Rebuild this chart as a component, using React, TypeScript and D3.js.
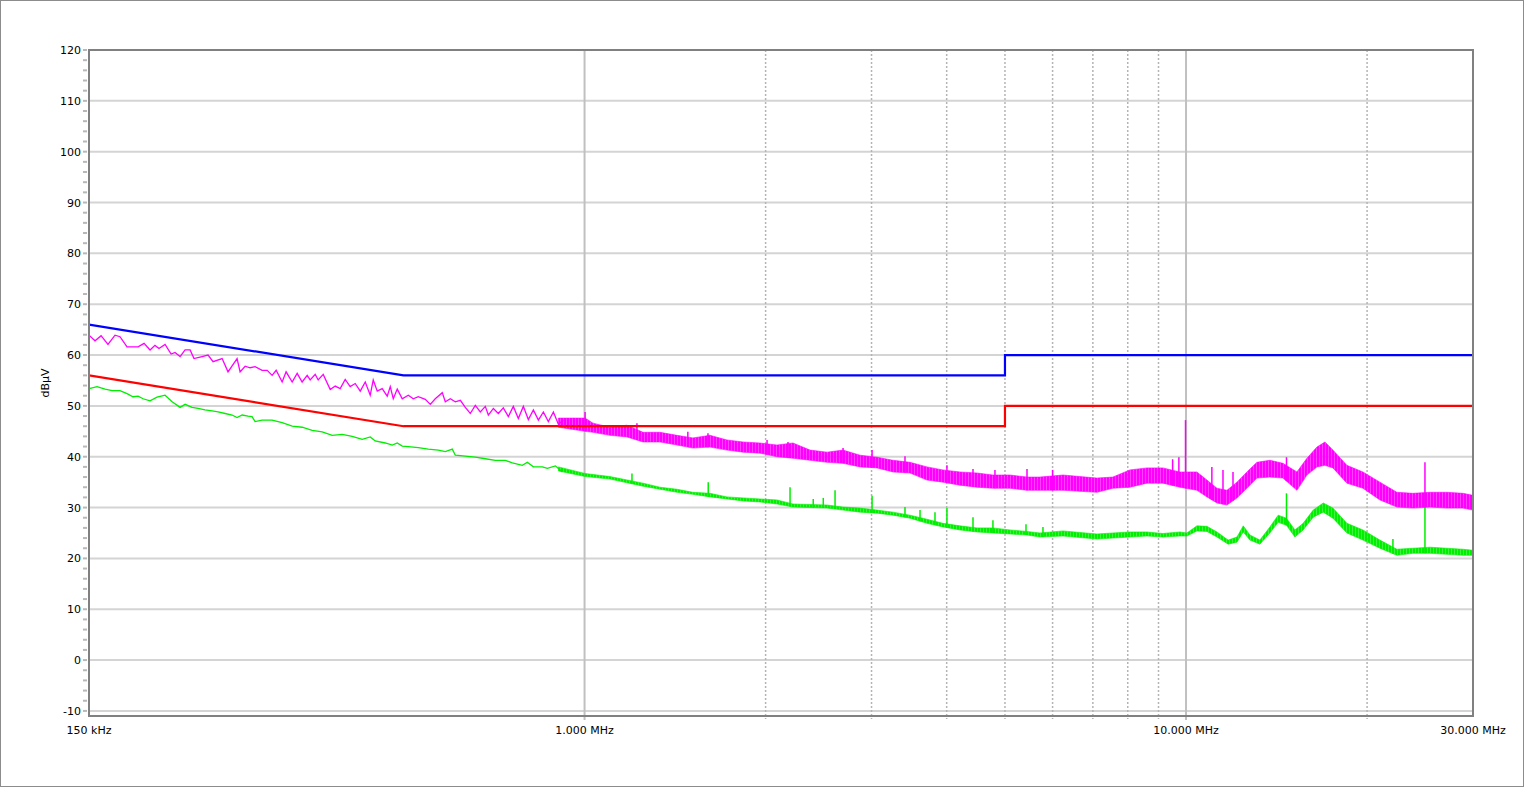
import React from 'react';
import * as d3 from 'd3';

// ---------- data (frequencies in MHz, levels in dBµV) ----------
const limitFreq = [0.15, 0.5, 5, 5, 30];
const limitQP = [66, 56, 56, 60, 60];
const limitAV = [56, 46, 46, 50, 50];

const xTickValues = [0.15, 1, 10, 30];
const xTickLabels = ['150 kHz', '1.000 MHz', '10.000 MHz', '30.000 MHz'];
const xMajorGrid = [1, 10];
const xMinorGrid = [2, 3, 4, 5, 6, 7, 8, 9, 20];
const yTickValues = [-10, 0, 10, 20, 30, 40, 50, 60, 70, 80, 90, 100, 110, 120];

// Peak trace (magenta) – low-frequency part, read as a line
const peakLowFreq = [0.150, 0.1535, 0.1571, 0.1613, 0.1657, 0.1689, 0.1735, 0.1810, 0.1852, 0.1895, 0.1931, 0.1961, 0.2007, 0.2054, 0.2085, 0.2126, 0.2167, 0.2209, 0.2242, 0.2313, 0.2366, 0.2412, 0.2497, 0.2554, 0.2644, 0.2675, 0.2727, 0.2779, 0.2833, 0.2910, 0.2967, 0.3024, 0.3071, 0.3142, 0.3190, 0.3265, 0.3328, 0.3392, 0.3458, 0.3498, 0.3566, 0.3607, 0.3677, 0.3777, 0.3850, 0.3924, 0.4000, 0.4077, 0.4156, 0.4237, 0.4319, 0.4402, 0.4453, 0.4522, 0.4609, 0.4698, 0.4753, 0.4808, 0.4882, 0.4976, 0.5092, 0.5191, 0.5291, 0.5435, 0.5540, 0.5647, 0.5800, 0.5868, 0.5981, 0.6097, 0.6215, 0.6335, 0.6457, 0.6582, 0.6710, 0.6839, 0.6919, 0.7053, 0.7189, 0.7327, 0.7470, 0.7613, 0.7761, 0.7911, 0.8064, 0.8220, 0.8380, 0.8541, 0.8706, 0.8875, 0.9046, 0.9221];
const peakLowVal = [63.9, 62.8, 63.8, 62.1, 63.9, 63.6, 61.6, 61.6, 62.3, 61.0, 61.9, 61.3, 62.1, 60.2, 60.5, 59.7, 61.0, 61.0, 59.3, 59.7, 60.0, 58.7, 59.3, 56.7, 59.3, 56.7, 57.8, 57.5, 57.7, 57.0, 57.0, 56.0, 57.0, 54.7, 56.7, 54.7, 56.4, 54.7, 56.0, 55.1, 56.2, 55.1, 56.2, 53.2, 53.9, 53.4, 55.2, 53.8, 54.4, 52.9, 54.7, 52.1, 55.1, 52.9, 53.4, 51.9, 53.8, 51.4, 53.3, 51.4, 52.1, 51.4, 51.8, 51.3, 50.3, 51.4, 52.6, 50.8, 51.4, 50.8, 51.1, 49.7, 48.5, 50.1, 48.8, 49.9, 48.2, 49.5, 48.5, 49.6, 47.9, 49.9, 47.5, 49.9, 47.3, 49.2, 47.2, 48.8, 46.9, 48.8, 46.4, 47.2];

// Peak trace – dense part, read as lower / upper envelope
const peakBandFreq = [0.905, 1.002, 1.033, 1.102, 1.176, 1.251, 1.335, 1.425, 1.514, 1.616, 1.725, 1.834, 1.957, 2.089, 2.221, 2.371, 2.530, 2.690, 2.871, 3.064, 3.257, 3.476, 3.710, 3.943, 4.209, 4.492, 4.775, 5.097, 5.439, 5.717, 6.243, 7.112, 7.558, 8.066, 8.609, 9.151, 9.770, 10.427, 10.834, 11.257, 11.697, 12.153, 12.625, 13.118, 13.787, 14.491, 15.289, 15.886, 16.506, 17.019, 17.548, 18.515, 19.683, 21.006, 22.418, 23.838, 25.437, 27.147, 28.866, 30.0];
const peakBandLo = [45.8, 45.0, 44.8, 44.2, 43.9, 42.9, 42.9, 42.3, 41.7, 41.9, 41.3, 40.9, 40.7, 40.0, 39.7, 39.3, 38.9, 38.7, 38.0, 37.8, 37.0, 36.8, 35.4, 35.0, 34.4, 34.0, 33.8, 33.8, 33.4, 33.4, 33.4, 33.0, 33.8, 34.0, 34.8, 34.8, 34.0, 33.4, 32.1, 30.9, 30.5, 31.9, 33.8, 35.8, 36.0, 35.8, 33.4, 36.4, 38.0, 38.3, 37.8, 34.8, 33.8, 31.5, 30.1, 29.9, 30.1, 29.9, 29.9, 29.5];
const peakBandHi = [47.6, 47.6, 46.6, 45.8, 46.2, 44.8, 44.8, 44.2, 43.7, 44.2, 43.3, 42.9, 42.7, 42.3, 42.7, 41.3, 40.9, 41.3, 40.3, 39.9, 39.3, 38.9, 38.0, 37.4, 37.0, 36.8, 36.4, 36.4, 36.0, 36.0, 36.4, 35.8, 36.0, 37.4, 37.8, 37.8, 37.0, 37.0, 35.4, 33.8, 33.4, 35.0, 37.0, 38.9, 39.3, 38.7, 37.0, 39.7, 41.9, 42.9, 41.3, 38.3, 37.0, 35.0, 33.0, 32.8, 33.0, 33.0, 32.8, 32.4];
const peakSpikeFreq = [1.002, 1.222, 1.485, 1.604, 2.011, 2.179, 2.690, 3.006, 3.41, 4.004, 4.424, 4.812, 5.44, 6.0, 9.5, 9.73, 9.98, 11.04, 11.52, 11.97, 14.69, 24.96];
const peakSpikeVal = [48.8, 46.6, 44.9, 44.6, 43.3, 42.9, 41.7, 41.3, 40.1, 38.3, 37.6, 37.4, 37.6, 37.4, 39.5, 39.9, 47.2, 38.0, 37.4, 37.0, 39.9, 38.9];

// Average trace (green) – low-frequency part
const avgLowFreq = [0.150, 0.1547, 0.1595, 0.1639, 0.1689, 0.1735, 0.1775, 0.1810, 0.1845, 0.1895, 0.1946, 0.2007, 0.2062, 0.2126, 0.2167, 0.2226, 0.2277, 0.2339, 0.2403, 0.2459, 0.2526, 0.2594, 0.2644, 0.2696, 0.2758, 0.2800, 0.2833, 0.2910, 0.3024, 0.3142, 0.3265, 0.3392, 0.3525, 0.3663, 0.3806, 0.3954, 0.4108, 0.4270, 0.4402, 0.4487, 0.4662, 0.4790, 0.4882, 0.4976, 0.5092, 0.5291, 0.5498, 0.5712, 0.5868, 0.6027, 0.6097, 0.6335, 0.6582, 0.6839, 0.7107, 0.7384, 0.7585, 0.7881, 0.8033, 0.8220, 0.8509, 0.8673, 0.8943, 0.9186];
const avgLowVal = [53.4, 53.8, 53.3, 53.0, 53.0, 52.4, 51.8, 51.9, 51.4, 51.0, 51.7, 52.1, 50.8, 49.7, 50.3, 49.7, 49.5, 49.2, 49.0, 48.8, 48.5, 48.2, 47.7, 48.2, 48.0, 47.9, 46.9, 47.2, 47.2, 46.7, 46.0, 45.8, 45.2, 44.9, 44.2, 44.4, 44.0, 43.4, 43.9, 43.1, 42.7, 42.3, 42.7, 42.1, 42.0, 41.8, 41.5, 41.3, 41.0, 41.5, 40.3, 40.1, 39.9, 39.6, 39.3, 39.3, 38.8, 38.3, 38.9, 38.0, 38.0, 37.7, 38.2, 37.0];

// Average trace – dense part
const avgBandFreq = [0.905, 1.002, 1.102, 1.251, 1.335, 1.425, 1.514, 1.616, 1.725, 1.834, 1.957, 2.089, 2.221, 2.530, 2.690, 2.871, 3.064, 3.257, 3.476, 3.710, 3.943, 4.209, 4.492, 4.775, 5.097, 5.439, 5.717, 6.243, 7.112, 7.558, 8.066, 8.609, 9.151, 9.770, 10.035, 10.427, 10.834, 11.257, 11.75, 12.153, 12.45, 12.771, 13.269, 13.787, 14.23, 14.69, 15.172, 15.66, 16.27, 16.91, 17.548, 18.515, 19.683, 21.006, 22.418, 23.838, 25.437, 27.147, 28.866, 30.0];
const avgBandLo = [37.2, 36.1, 35.6, 34.2, 33.6, 33.0, 32.6, 32.1, 31.7, 31.3, 31.1, 30.7, 30.1, 29.9, 29.5, 29.1, 28.9, 28.5, 27.9, 26.9, 26.2, 25.6, 25.2, 25.0, 24.8, 24.6, 24.2, 24.4, 23.8, 24.0, 24.2, 24.4, 24.2, 24.4, 24.4, 25.4, 25.3, 24.2, 22.8, 23.2, 25.2, 23.6, 22.8, 25.0, 27.1, 26.5, 24.2, 25.6, 28.1, 29.1, 27.9, 25.0, 23.6, 22.0, 20.6, 21.0, 21.0, 20.8, 20.6, 20.6];
const avgBandHi = [38.0, 36.7, 36.1, 34.8, 34.0, 33.6, 33.0, 32.8, 32.1, 31.9, 31.7, 31.5, 30.7, 30.5, 30.1, 29.9, 29.5, 29.1, 28.5, 27.7, 26.9, 26.4, 26.0, 26.0, 25.6, 25.3, 25.0, 25.4, 24.8, 25.0, 25.2, 25.2, 24.9, 25.2, 25.0, 26.4, 26.3, 25.2, 23.6, 24.2, 26.4, 24.6, 23.6, 26.2, 28.5, 27.9, 25.6, 26.9, 29.5, 30.9, 29.9, 26.9, 25.6, 23.6, 21.8, 22.0, 22.2, 22.0, 21.8, 21.6];
const avgSpikeFreq = [1.199, 1.6055, 2.196, 2.400, 2.494, 2.609, 3.006, 3.41, 3.612, 3.825, 4.004, 4.424, 4.775, 5.419, 5.783, 14.69, 22.08, 24.96];
const avgSpikeVal = [36.7, 35.0, 34.0, 31.7, 31.9, 33.4, 32.3, 30.1, 29.5, 29.1, 29.9, 28.1, 27.5, 26.7, 26.2, 32.8, 23.8, 32.8];

// ---------- layout ----------
const W = 1524;
const H = 787;
const PL = 89, PR = 1473, PT = 50, PB = 716;
const FONT = '"DejaVu Sans", Verdana, sans-serif';

const MAGENTA = '#ff00ff';
const GREEN = '#00ee00';

function interpLog(freqs: number[], vals: number[], f: number): number {
  const lf = Math.log10(f);
  for (let i = 0; i < freqs.length - 1; i++) {
    const a = Math.log10(freqs[i]);
    const b = Math.log10(freqs[i + 1]);
    if (lf >= a && lf <= b) {
      const t = (lf - a) / (b - a);
      return vals[i] + t * (vals[i + 1] - vals[i]);
    }
  }
  return vals[vals.length - 1];
}

export default function App() {
  const x = d3.scaleLog().domain([0.15, 30]).range([PL, PR]);
  const y = d3.scaleLinear().domain([-11, 120]).range([PB, PT]);

  const line = d3
    .line<[number, number]>()
    .x((d) => x(d[0]))
    .y((d) => y(d[1]));
  const area = d3
    .area<[number, number, number]>()
    .x((d) => x(d[0]))
    .y0((d) => y(d[1]))
    .y1((d) => y(d[2]));

  const zip2 = (a: number[], b: number[]) => a.map((v, i) => [v, b[i]] as [number, number]);
  const zip3 = (a: number[], b: number[], c: number[]) =>
    a.map((v, i) => [v, b[i], c[i]] as [number, number, number]);

  const yMinor = d3.range(-10, 121, 2);

  return (
    <svg
      width={W}
      height={H}
      style={{ position: 'absolute', left: 0, top: 0, background: '#fff' }}
      fontFamily={FONT}
    >
      <defs>
        <clipPath id="plotClip">
          <rect x={PL} y={PT} width={PR - PL} height={PB - PT} />
        </clipPath>
        <pattern id="peakTex" width={3} height={4} patternUnits="userSpaceOnUse">
          <rect width={3} height={4} fill={MAGENTA} fillOpacity={0.75} />
          <rect width={2} height={4} fill={MAGENTA} />
        </pattern>
        <pattern id="avgTex" width={3} height={4} patternUnits="userSpaceOnUse">
          <rect width={3} height={4} fill={GREEN} fillOpacity={0.75} />
          <rect width={2} height={4} fill={GREEN} />
        </pattern>
      </defs>
      <rect x={0.5} y={0.5} width={W - 1} height={H - 1} fill="#fff" stroke="#8c8c8c" strokeWidth={1} />

      {/* horizontal grid */}
      {yTickValues.map((v) => (
        <line key={'hg' + v} x1={PL} x2={PR} y1={y(v)} y2={y(v)} stroke="#d4d4d4" strokeWidth={2} />
      ))}
      {/* vertical grid */}
      {xMinorGrid.map((f) => (
        <line
          key={'vm' + f}
          x1={x(f)}
          x2={x(f)}
          y1={PT}
          y2={PB + 3}
          stroke="#b4b4b4"
          strokeWidth={1.5}
          strokeDasharray="2,2"
        />
      ))}
      {xMajorGrid.map((f) => (
        <line key={'vM' + f} x1={x(f)} x2={x(f)} y1={PT} y2={PB + 4} stroke="#c0c0c0" strokeWidth={2} />
      ))}

      {/* y ticks */}
      {yMinor.map((v) => (
        <line key={'yt' + v} x1={83} x2={87} y1={y(v)} y2={y(v)} stroke="#b8b8b8" strokeWidth={2} />
      ))}
      {yTickValues.map((v) => (
        <text key={'yl' + v} x={81} y={y(v) + 4} fontSize={11} textAnchor="end" fill="#000">
          {v}
        </text>
      ))}
      {xTickValues.map((f, i) => (
        <text key={'xl' + f} x={x(f)} y={734} fontSize={11} textAnchor="middle" fill="#000">
          {xTickLabels[i]}
        </text>
      ))}
      <text
        transform={`translate(45, ${(PT + PB) / 2}) rotate(-90)`}
        fontSize={11}
        textAnchor="middle"
        dominantBaseline="central"
        fill="#000"
      >
        dBµV
      </text>

      <g clipPath="url(#plotClip)">
        {/* average trace */}
        <path d={area(zip3(avgBandFreq, avgBandLo, avgBandHi)) || ''} fill="url(#avgTex)" stroke={GREEN} strokeWidth={0.6} />
        <path d={line(zip2(avgLowFreq, avgLowVal)) || ''} fill="none" stroke={GREEN} strokeWidth={1.3} />
        {avgSpikeFreq.map((f, i) => (
          <line
            key={'as' + i}
            x1={x(f)}
            x2={x(f)}
            y1={y(interpLog(avgBandFreq, avgBandLo, f))}
            y2={y(avgSpikeVal[i])}
            stroke={GREEN}
            strokeWidth={1.5}
          />
        ))}

        {/* peak trace */}
        <path d={area(zip3(peakBandFreq, peakBandLo, peakBandHi)) || ''} fill="url(#peakTex)" stroke={MAGENTA} strokeWidth={0.6} />
        <path d={line(zip2(peakLowFreq, peakLowVal)) || ''} fill="none" stroke={MAGENTA} strokeWidth={1.3} />
        {peakSpikeFreq.map((f, i) => (
          <line
            key={'ps' + i}
            x1={x(f)}
            x2={x(f)}
            y1={y(interpLog(peakBandFreq, peakBandLo, f))}
            y2={y(peakSpikeVal[i])}
            stroke={MAGENTA}
            strokeWidth={1.5}
          />
        ))}

        {/* limit lines */}
        <path d={line(zip2(limitFreq, limitQP)) || ''} fill="none" stroke="#0000ff" strokeWidth={2.2} />
        <path d={line(zip2(limitFreq, limitAV)) || ''} fill="none" stroke="#ff0000" strokeWidth={2.2} />
      </g>

      {/* plot frame */}
      <rect x={PL} y={PT} width={PR - PL} height={PB - PT} fill="none" stroke="#808080" strokeWidth={2} />
    </svg>
  );
}
